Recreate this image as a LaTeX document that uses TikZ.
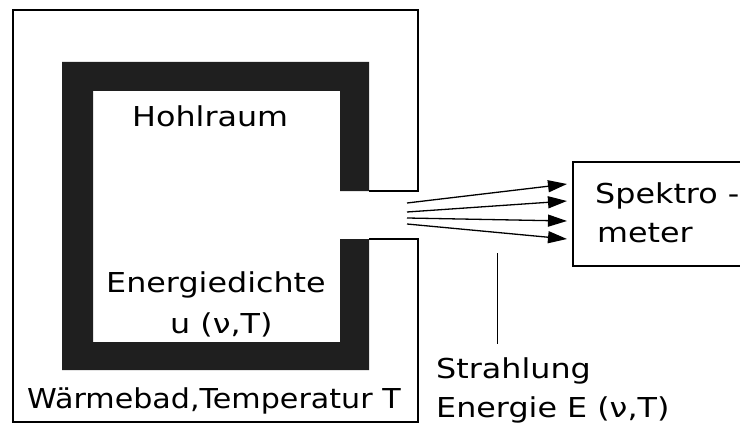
\documentclass[tikz,border=0pt]{standalone}
\usepackage{fontspec}
\usetikzlibrary{arrows.meta}
\newfontfamily\labfont[FakeStretch=1.16]{DejaVu Sans}
\newfontfamily\bathfont[FakeStretch=1.10]{DejaVu Sans}
\begin{document}
\begin{tikzpicture}[x=1pt,y=-1pt,
  lab/.style={inner sep=0pt,anchor=base west,font=\labfont\fontsize{27.4}{30}\selectfont},
  frame/.style={line width=1.6pt,line join=miter},
  ray/.style={line width=1.3pt,-{Triangle[length=19pt,width=12pt]}},
  wall/.style={fill=black!88}]
\useasboundingbox (0,0) rectangle (740,428);
\clip (0,0) rectangle (740,428);
% heat bath outline
\draw[frame] (369,191) -- (418,191) -- (418,10) -- (13,10) -- (13,422) -- (418,422) -- (418,239) -- (369,239);
% cavity wall
\fill[wall] (369,191) -- (369,62) -- (62,62) -- (62,370) -- (369,370) -- (369,239)
  -- (340,239) -- (340,342) -- (93,342) -- (93,91) -- (340,91) -- (340,191) -- cycle;
% spectrometer box
\draw[frame] (745,162) -- (573,162) -- (573,266) -- (745,266);
% labels
\node[lab] (hohl) at (132,127) {Hohlraum};
\node[lab] (edichte) at (106,292) {Energiedichte};
\node[lab] (udens) at (170,333) {u (ν,T)};
\node[lab,font=\bathfont\fontsize{27.4}{30}\selectfont] (bath) at (27,408) {Wärmebad,Temperatur T};
\node[lab] (spek) at (595,203) {Spektro -};
\node[lab] (meter) at (597,242) {meter};
\node[lab] (strahl) at (436,378) {Strahlung};
\node[lab] (energie) at (436,417) {Energie E (ν,T)};
% rays
\coordinate (s1) at (407,203); \coordinate (e1) at (567,184);
\coordinate (s2) at (407,212); \coordinate (e2) at (567,201);
\coordinate (s3) at (407,218); \coordinate (e3) at (567,221);
\coordinate (s4) at (407,224); \coordinate (e4) at (567,239);
\draw[ray] (s1) -- (e1);
\draw[ray] (s2) -- (e2);
\draw[ray] (s3) -- (e3);
\draw[ray] (s4) -- (e4);
% pointer line
\coordinate (p1) at (497,253); \coordinate (p2) at (497,344);
\draw[line width=1pt] (p1) -- (p2);
\end{tikzpicture}
\end{document}
